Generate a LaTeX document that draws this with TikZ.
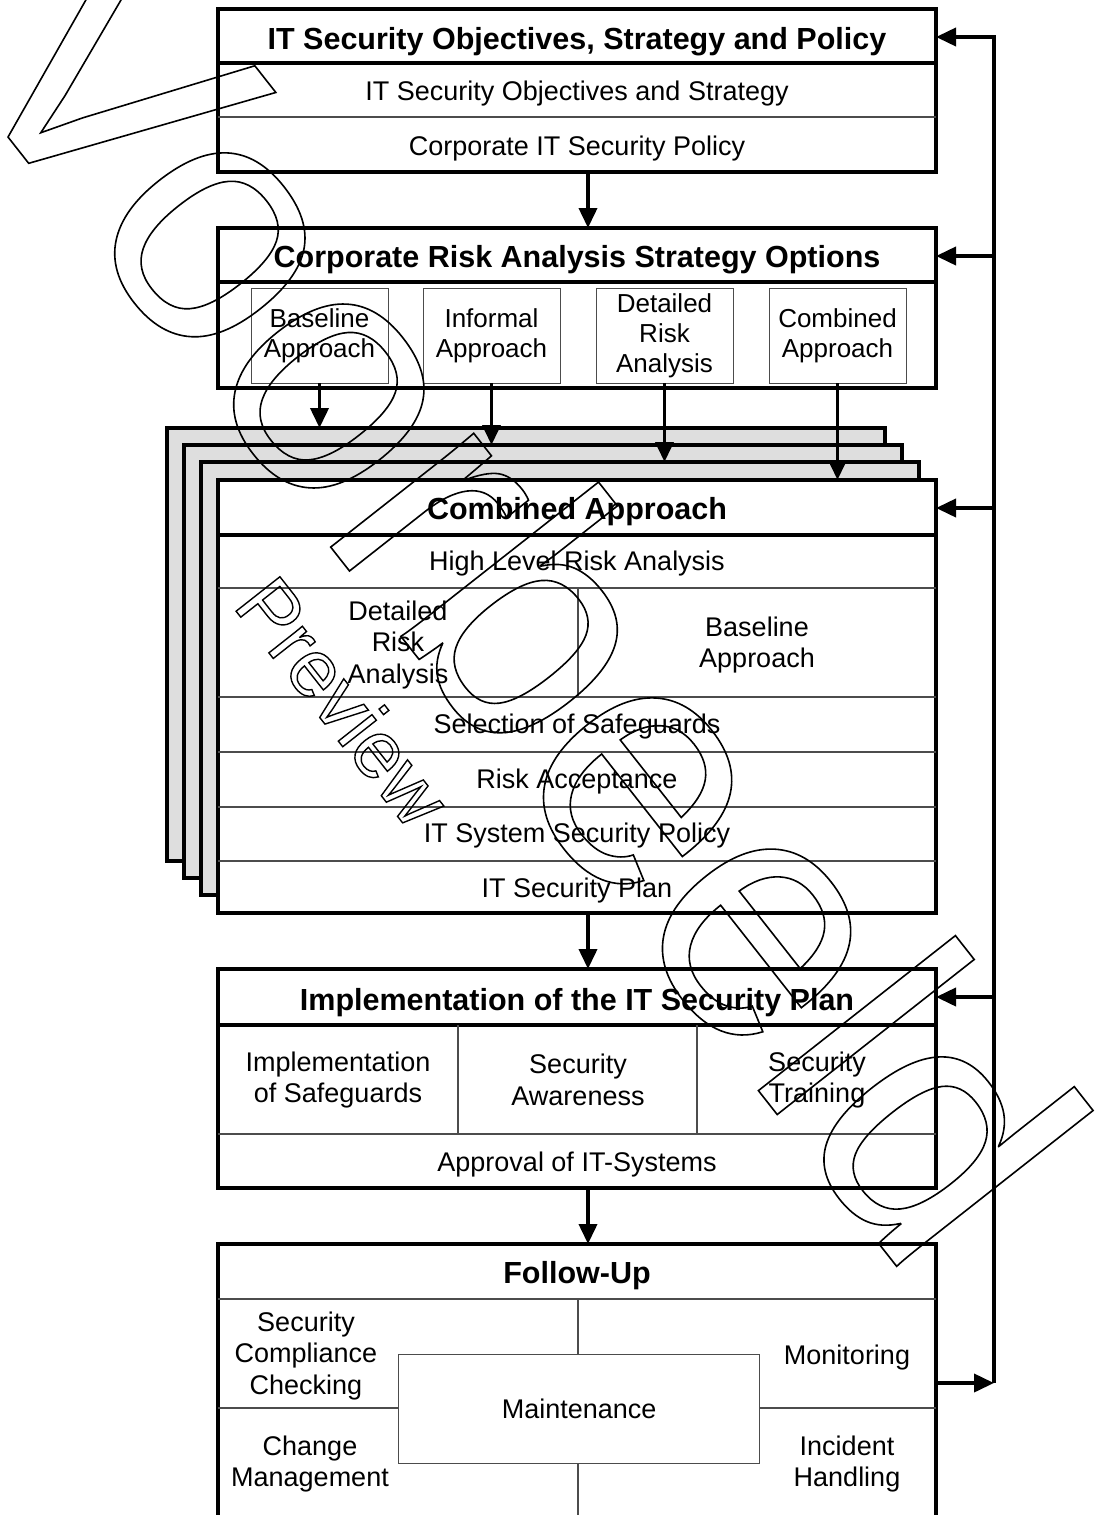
\documentclass[tikz,border=0pt]{standalone}
\usepackage{fontspec}
\setmainfont{Liberation Sans}
\newfontfamily\markfont{Liberation Sans}
\usetikzlibrary{arrows.meta}
\newcommand\hdfont{\fontsize{30.5}{34}\selectfont\bfseries}
\newcommand\txfont{\fontsize{27}{31.5}\selectfont}
\newcommand\opfont{\fontsize{26}{30}\selectfont}
% glyph outlines only (stroke rendering mode)
\newcommand\outlined[2]{\special{pdf:literal direct 1 Tr #1 w}#2\special{pdf:literal direct 0 Tr}}
\begin{document}
\begin{tikzpicture}[x=1pt,y=-1pt,
  frame/.style={draw=black, line width=3.8pt, fill=white, inner sep=0pt, outer sep=0pt, anchor=north west},
  sheet/.style={draw=black, line width=3.8pt, fill=black!13, inner sep=0pt, outer sep=0pt, anchor=north west,
                minimum width=718pt, minimum height=433pt},
  thinsep/.style={draw=black!70, line width=1.2pt},
  thicksep/.style={draw=black, line width=3.8pt},
  optbox/.style={draw=black!70, line width=1pt, fill=white, anchor=north west, inner sep=0pt, outer sep=0pt,
                 align=center, font=\opfont, minimum width=137pt, minimum height=95pt},
  hd/.style={font=\hdfont, inner sep=0pt, text height=22pt, text depth=0pt},
  tx/.style={font=\txfont, inner sep=0pt, text height=19.4pt, text depth=0pt},
  txm/.style={font=\txfont, inner sep=0pt, align=center},
  arr/.style={line width=3.8pt, -{Triangle[length=20pt,width=18pt]}},
  wmark/.style={anchor=base west, rotate=-51.8, inner sep=0pt, outer sep=0pt},
]
\useasboundingbox (0,0) rectangle (1096,1515);
\clip (0,0) rectangle (1096,1515);

% ---------- objectives, strategy and policy ----------
\node[frame, minimum width=718pt, minimum height=163pt] (b1) at (218,9) {};
\draw[thicksep] (218,63) -- (936,63);
\draw[thinsep] (218,117) -- (936,117);
\node[hd] (b1t) at (577,38) {IT Security Objectives, Strategy and Policy};
\node[tx] (b1a) at (577,91) {IT Security Objectives and Strategy};
\node[tx] (b1b) at (577,146) {Corporate IT Security Policy};

% ---------- risk analysis strategy options ----------
\node[frame, minimum width=718pt, minimum height=160pt] (b2) at (218,228) {};
\draw[thicksep] (218,282) -- (936,282);
\node[hd] (b2t) at (577,256) {Corporate Risk Analysis Strategy Options};
\node[optbox] (o1) at (251,288) {Baseline\\Approach};
\node[optbox] (o2) at (423,288) {Informal\\Approach};
\node[optbox] (o3) at (596,288) {Detailed\\Risk\\Analysis};
\node[optbox] (o4) at (769,288) {Combined\\Approach};

% ---------- stacked approach sheets ----------
\node[sheet] (s1) at (167,428) {};
\node[sheet] (s2) at (184,445) {};
\node[sheet] (s3) at (201,462) {};
\node[frame, minimum width=718pt, minimum height=433pt] (b3) at (218,480) {};
\draw[thicksep] (218,535) -- (936,535);
\draw[thinsep] (218,588) -- (936,588);
\draw[thinsep] (578,588) -- (578,697);
\draw[thinsep] (218,697) -- (936,697);
\draw[thinsep] (218,752) -- (936,752);
\draw[thinsep] (218,807) -- (936,807);
\draw[thinsep] (218,861) -- (936,861);
\node[hd] (b3t) at (577,508) {Combined Approach};
\node[tx] (b3a) at (577,561) {High Level Risk Analysis};
\node[txm] (b3b) at (398,645) {Detailed\\Risk\\Analysis};
\node[txm] (b3c) at (757,645) {Baseline\\Approach};
\node[tx] (b3d) at (577,724) {Selection of Safeguards};
\node[tx] (b3e) at (577,779) {Risk Acceptance};
\node[tx] (b3f) at (577,833) {IT System Security Policy};
\node[tx] (b3g) at (577,888) {IT Security Plan};

\draw[arr] (o1.south) -- (o1.south |- s1.north);
\draw[arr] (o2.south) -- (o2.south |- s2.north);
\draw[arr] (o3.south) -- (o3.south |- s3.north);
\draw[arr] (o4.south) -- (o4.south |- b3.north);

% ---------- implementation ----------
\node[frame, minimum width=718pt, minimum height=219pt] (b4) at (218,969) {};
\draw[thicksep] (218,1025) -- (936,1025);
\draw[thinsep] (458,1025) -- (458,1134);
\draw[thinsep] (697,1025) -- (697,1134);
\draw[thinsep] (218,1134) -- (936,1134);
\node[hd] (b4t) at (577,999) {Implementation of the IT Security Plan};
\node[txm] (b4a) at (338,1080) {Implementation\\of Safeguards};
\node[txm] (b4b) at (578,1080) {Security\\Awareness};
\node[txm] (b4c) at (817,1080) {Security\\Training};
\node[tx] (b4d) at (577,1162) {Approval of IT-Systems};

% ---------- follow-up ----------
\node[frame, minimum width=718pt, minimum height=300pt] (b5) at (218,1244) {};
\draw[thinsep] (218,1299) -- (936,1299);
\draw[thinsep] (578,1299) -- (578,1354);
\draw[thinsep] (578,1463) -- (578,1520);
\draw[thinsep] (218,1408) -- (398,1408);
\draw[thinsep] (759,1408) -- (936,1408);
\node[draw=black!70, line width=1.2pt, minimum width=361pt, minimum height=109pt, inner sep=0pt,
      font=\txfont, anchor=north west] (mt) at (398,1354) {Maintenance};
\node[hd] (b5t) at (577,1272) {Follow-Up};
\node[txm] (b5a) at (306,1356) {Security\\Compliance\\Checking};
\node[tx] (b5b) at (847,1355) {Monitoring};
\node[txm] (b5c) at (310,1464) {Change\\Management};
\node[txm] (b5d) at (847,1464) {Incident\\Handling};

% ---------- main flow ----------
\draw[arr] ([xshift=11pt]b1.south) -- ([xshift=11pt]b2.north);
\draw[arr] ([xshift=11pt]b3.south) -- ([xshift=11pt]b4.north);
\draw[arr] ([xshift=11pt]b4.south) -- ([xshift=11pt]b5.north);

% ---------- feedback loop ----------
\coordinate (r1) at (994,37);
\coordinate (r2) at (994,256);
\coordinate (r3) at (994,508);
\coordinate (r4) at (994,997);
\coordinate (r5) at (994,1383);
\draw[arr] (r5) -- (r1) -- (r1 -| b1.east);
\draw[arr] (r2) -- (r2 -| b2.east);
\draw[arr] (r3) -- (r3 -| b3.east);
\draw[arr] (r4) -- (r4 -| b4.east);
\draw[arr] (r5 -| b5.east) -- (r5);

% ---------- outlined overprint ----------
\node[wmark, font=\markfont\fontsize{346}{400}\selectfont] (wm1) at (-53,59.5)
  {\outlined{1.6}{Voorbeeld}};
\node[wmark, font=\markfont\fontsize{81}{90}\selectfont] (wm2) at (232,606)
  {\outlined{1.4}{Preview}};
\end{tikzpicture}
\end{document}
